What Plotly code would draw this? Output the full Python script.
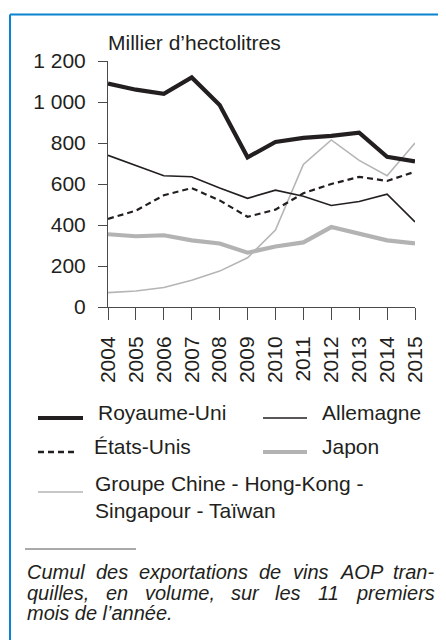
import plotly.graph_objects as go

years = [2004, 2005, 2006, 2007, 2008, 2009, 2010, 2011, 2012, 2013, 2014, 2015]
royaume_uni = [1090, 1060, 1040, 1120, 985, 730, 805, 825, 835, 850, 733, 710]
allemagne = [740, 690, 640, 635, 580, 530, 570, 540, 495, 515, 550, 415]
etats_unis = [430, 470, 545, 580, 520, 440, 475, 555, 600, 635, 615, 660]
japon = [355, 345, 350, 325, 310, 265, 295, 315, 390, 355, 325, 310]
chine_groupe = [70, 78, 95, 130, 175, 240, 375, 695, 815, 715, 640, 800]

y_ticks = [0, 200, 400, 600, 800, 1000, 1200]
y_tick_labels = ["0", "200", "400", "600", "800", "1 000", "1 200"]
x_tick_labels = [str(y) for y in years]

# The page body has an 8px margin: build the figure 8px smaller and shift everything.
OFF = 8
W, H = 446 - OFF, 640 - OFF
X0, X1, Y0, Y1 = 108 - OFF, 415 - OFF, 61 - OFF, 307 - OFF  # plot area in figure pixels
FONT = "Liberation Sans, Arial, sans-serif"
INK = "#231f20"


def px(x):  # x in reference-page pixels -> paper
    return (x - OFF - X0) / (X1 - X0)


def py(y):  # y in reference-page pixels -> paper
    return (Y1 - (y - OFF)) / (Y1 - Y0)


series = [
    ("Groupe Chine - Hong-Kong - Singapour - Taïwan", chine_groupe, dict(color="#b5b5b5", width=1.6)),
    ("Japon", japon, dict(color="#b3b3b3", width=4.2)),
    ("Allemagne", allemagne, dict(color=INK, width=1.6)),
    ("États-Unis", etats_unis, dict(color=INK, width=2.2, dash="6px,4px")),
    ("Royaume-Uni", royaume_uni, dict(color=INK, width=4.2)),
]

fig = go.Figure()
for name, vals, line in series:
    fig.add_trace(go.Scatter(x=years, y=vals, mode="lines", name=name, line=line,
                             showlegend=False, hoverinfo="skip"))

shapes = []
annotations = []

# blue frame (top and left)
shapes.append(dict(type="line", xref="paper", yref="paper", x0=px(10), x1=px(446), y0=py(14.5), y1=py(14.5),
                   line=dict(color="#0a84d0", width=2)))
shapes.append(dict(type="line", xref="paper", yref="paper", x0=px(10), x1=px(10), y0=py(14.5), y1=py(640),
                   line=dict(color="#0a84d0", width=2)))

# title
annotations.append(dict(text="Millier d\u2019hectolitres", xref="paper", yref="paper", x=px(106), y=py(42),
                        xanchor="left", yanchor="middle", showarrow=False, font=dict(size=21, color=INK, family=FONT)))

# legend (manual)
legend_items = [
    ("Royaume-Uni", dict(color=INK, width=4.2), 38, 83, 418, 96, 412),
    ("Allemagne", dict(color=INK, width=1.6), 263, 307, 418, 320, 412),
    ("États-Unis", dict(color=INK, width=2.4, dash="6px,4px"), 38, 77, 452, 92, 446),
    ("Japon", dict(color="#b3b3b3", width=4.2), 263, 307, 452, 320, 446),
    ("Groupe Chine - Hong-Kong -<br>Singapour - Taïwan", dict(color="#b5b5b5", width=1.6), 38, 83, 492, 93, 497),
]
for text, line, lx0, lx1, ly, tx, ty in legend_items:
    shapes.append(dict(type="line", xref="paper", yref="paper", x0=px(lx0), x1=px(lx1), y0=py(ly), y1=py(ly),
                       line=line))
    annotations.append(dict(text=text, xref="paper", yref="paper", x=px(tx), y=py(ty), xanchor="left",
                            yanchor="middle", align="left", showarrow=False,
                            font=dict(size=21, color=INK, family=FONT)))

# footnote separator
shapes.append(dict(type="line", xref="paper", yref="paper", x0=px(25), x1=px(136), y0=py(549), y1=py(549),
                   line=dict(color="#555555", width=1)))

# footnote: justified lines, words placed at their starting positions
foot_words = [
    (572, [("Cumul", 25), ("des", 94), ("exportations", 137.3), ("de", 257.4), ("vins", 290.8),
           ("AOP", 337.6), ("tran-", 391)]),
    (593, [("quilles,", 25), ("en", 103.7), ("volume,", 142.5), ("sur", 229), ("les", 273.3),
           ("11", 315.5), ("premiers", 354.2)]),
    (613, [("mois de l\u2019année.", 25)]),
]
for ty, words in foot_words:
    for word, wx in words:
        annotations.append(dict(text="<i>" + word + "</i>", xref="paper", yref="paper", x=px(wx), y=py(ty),
                                xanchor="left", yanchor="middle", showarrow=False,
                                font=dict(size=20, color=INK, family=FONT)))

fig.update_layout(
    width=W, height=H,
    margin=dict(l=X0, r=W - X1, t=Y0, b=H - Y1, pad=0),
    paper_bgcolor="white", plot_bgcolor="white",
    font=dict(family=FONT, color=INK, size=21),
    shapes=shapes, annotations=annotations,
    showlegend=False,
)
fig.update_xaxes(range=[2004, 2015], tickvals=years, ticktext=x_tick_labels, tickangle=-90,
                 ticks="outside", ticklen=12, tickcolor="#4a4a4a", tickwidth=1,
                 showline=True, linecolor="#4a4a4a", linewidth=1, showgrid=False, zeroline=False,
                 tickfont=dict(size=21, color=INK, family=FONT), ticklabelstandoff=8)
fig.update_yaxes(range=[0, 1200], tickvals=y_ticks, ticktext=y_tick_labels,
                 ticks="outside", ticklen=9, tickcolor="#4a4a4a", tickwidth=1,
                 showline=True, linecolor="#4a4a4a", linewidth=1, showgrid=False, zeroline=False,
                 tickfont=dict(size=21, color=INK, family=FONT), ticklabelstandoff=8)

fig.write_html("out.html")
